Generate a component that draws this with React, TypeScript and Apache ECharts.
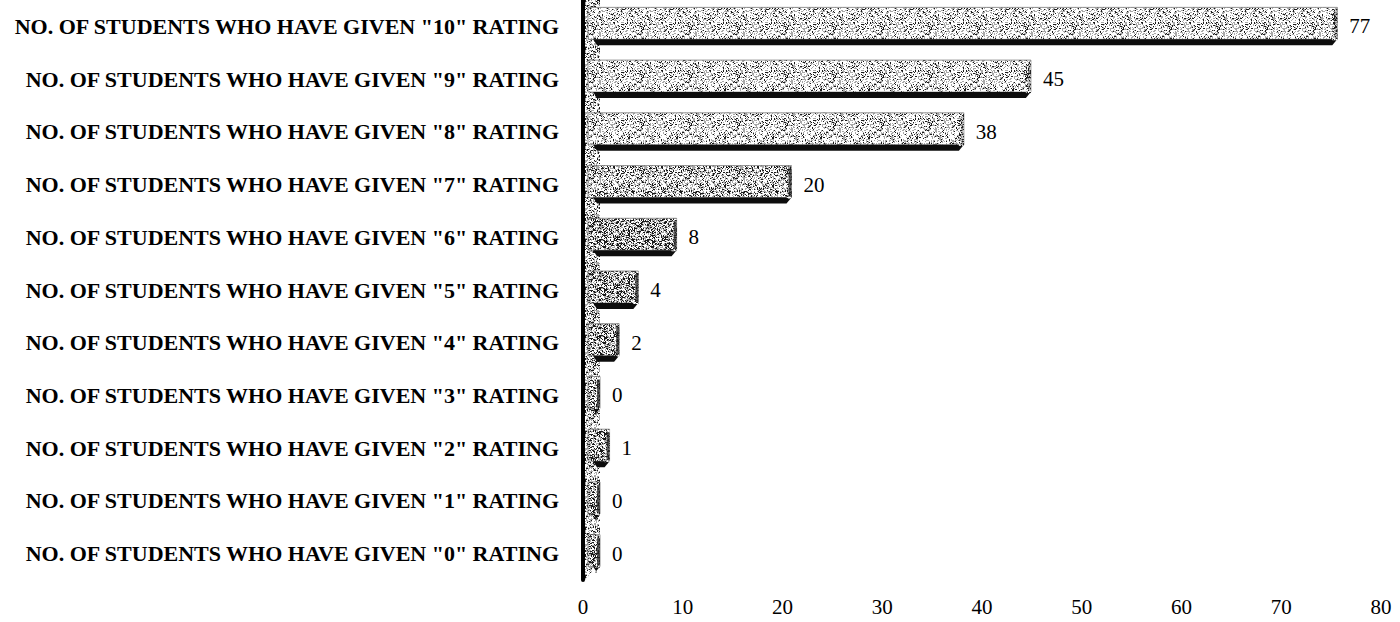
import React, { useEffect, useRef } from 'react';
import * as echarts from 'echarts';

const ratingCategories = [
  'NO. OF STUDENTS WHO HAVE GIVEN "10" RATING',
  'NO. OF STUDENTS WHO HAVE GIVEN "9" RATING',
  'NO. OF STUDENTS WHO HAVE GIVEN "8" RATING',
  'NO. OF STUDENTS WHO HAVE GIVEN "7" RATING',
  'NO. OF STUDENTS WHO HAVE GIVEN "6" RATING',
  'NO. OF STUDENTS WHO HAVE GIVEN "5" RATING',
  'NO. OF STUDENTS WHO HAVE GIVEN "4" RATING',
  'NO. OF STUDENTS WHO HAVE GIVEN "3" RATING',
  'NO. OF STUDENTS WHO HAVE GIVEN "2" RATING',
  'NO. OF STUDENTS WHO HAVE GIVEN "1" RATING',
  'NO. OF STUDENTS WHO HAVE GIVEN "0" RATING',
];
const studentCounts = [77, 45, 38, 20, 8, 4, 2, 0, 1, 0, 0];
const axisMin = 0;
const axisMax = 80;
const axisInterval = 10;

const SERIF = '"Liberation Serif", "DejaVu Serif", serif';

function makeTexture(size: number, dark: number, mid: number): string {
  const c = document.createElement('canvas');
  c.width = size;
  c.height = size;
  const ctx = c.getContext('2d')!;
  ctx.fillStyle = '#ffffff';
  ctx.fillRect(0, 0, size, size);
  for (let y = 0; y < size; y++) {
    for (let x = 0; x < size; x++) {
      let h = Math.imul(x + 1, 73856093) ^ Math.imul(y + 7, 19349663);
      h = Math.imul(h ^ (h >>> 13), 1274126177);
      h = (h ^ (h >>> 16)) >>> 0;
      const r = (h & 1023) / 1024;
      if (r < dark) {
        ctx.fillStyle = '#1a1a1a';
        ctx.fillRect(x, y, 1, 1);
      } else if (r < dark + mid) {
        ctx.fillStyle = '#a8a8a8';
        ctx.fillRect(x, y, 1, 1);
      }
    }
  }
  return c.toDataURL();
}

export default function App() {
  const ref = useRef<HTMLDivElement>(null);
  useEffect(() => {
    if (!ref.current) return;
    document.body.style.margin = '0';
    const chart = echarts.init(ref.current, undefined, { renderer: 'svg' });
    const texLight = makeTexture(48, 0.12, 0.28);
    const tex = makeTexture(48, 0.2, 0.32);
    const texDark = makeTexture(48, 0.32, 0.32);
    const pattern = (src: string) => ({ image: src, repeat: 'repeat', imageWidth: 48, imageHeight: 48 });

    const gridTop = 0;
    const gridBottom = 42;
    const axisLeft = 583;

    const option: any = {
      animation: false,
      backgroundColor: '#ffffff',
      grid: [
        { left: axisLeft, right: 19, top: gridTop, bottom: gridBottom },
        { left: 598, right: 36, top: gridTop, bottom: gridBottom },
      ],
      xAxis: [
        {
          gridIndex: 0,
          type: 'value',
          min: axisMin,
          max: axisMax,
          interval: axisInterval,
          axisLine: { show: false },
          axisTick: { show: false },
          splitLine: { show: false },
          axisLabel: { color: '#000', fontFamily: SERIF, fontSize: 21, margin: 16 },
        },
        {
          gridIndex: 1,
          type: 'value',
          min: axisMin,
          max: axisMax,
          show: false,
        },
      ],
      yAxis: [
        {
          gridIndex: 0,
          type: 'category',
          inverse: true,
          data: ratingCategories,
          axisLine: { show: true, lineStyle: { color: '#000', width: 4 } },
          axisTick: { show: false },
          axisLabel: {
            color: '#000',
            fontFamily: SERIF,
            fontWeight: 'bold',
            fontSize: 22,
            margin: 24,
          },
        },
        {
          gridIndex: 1,
          type: 'category',
          inverse: true,
          data: ratingCategories,
          show: false,
        },
      ],
      graphic: [
        {
          type: 'polygon',
          z: 1,
          shape: {
            points: [
              [axisLeft + 2, 0],
              [axisLeft + 17, 0],
              [axisLeft + 17, 562],
              [axisLeft + 2, 580],
            ],
          },
          style: { fill: pattern(tex) },
        },
      ],
      series: [
        {
          type: 'custom',
          xAxisIndex: 1,
          yAxisIndex: 1,
          z: 3,
          data: studentCounts.map((v, i) => [v, i]),
          renderItem: (params: any, api: any) => {
            const v = api.value(0);
            const c = api.value(1);
            const p0 = api.coord([0, c]);
            const p1 = api.coord([v, c]);
            const band = api.size([0, 1])[1];
            const h = band * 0.72;
            const top = p0[1] - h / 2;
            const bot = p0[1] + h / 2;
            const d = 6;
            const x0 = p0[0] - 10;
            const x1 = p1[0] + 2;
            const face = v > 30 ? texLight : v > 10 ? tex : texDark;
            return {
              type: 'group',
              children: [
                {
                  type: 'rect',
                  shape: { x: x0, y: top, width: x1 - x0, height: h - d },
                  style: { fill: pattern(face), stroke: '#777', lineWidth: 0.8 },
                },
                {
                  type: 'polygon',
                  shape: {
                    points: [
                      [x0 + 5, bot - d],
                      [x1, bot - d],
                      [x1 - 5, bot],
                      [x0 + 9, bot],
                    ],
                  },
                  style: { fill: '#0d0d0d' },
                },
                {
                  type: 'rect',
                  shape: { x: x1 - 5, y: top + 1, width: 5, height: h - d },
                  style: { fill: pattern(texDark) },
                },
                {
                  type: 'rect',
                  shape: { x: x1 - 3, y: top + 3, width: 3, height: h - d - 4 },
                  style: { fill: '#222', opacity: v > 30 ? 0.25 : 0.75 },
                },
                {
                  type: 'text',
                  style: {
                    text: String(v),
                    x: x1 + 12,
                    y: p0[1],
                    verticalAlign: 'middle',
                    align: 'left',
                    fill: '#000',
                    font: `21px ${SERIF}`,
                  },
                },
              ],
            };
          },
        },
      ],
    };
    chart.setOption(option);
    return () => chart.dispose();
  }, []);
  return <div ref={ref} style={{ width: 1400, height: 622 }} />;
}
